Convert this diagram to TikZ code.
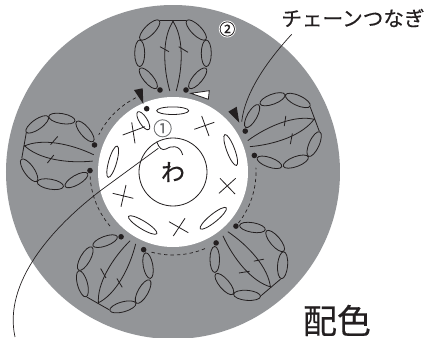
\documentclass[tikz,border=0pt]{standalone}
\usepackage{fontspec}
\setmainfont[FakeBold=0.4]{Noto Sans CJK JP}
\usetikzlibrary{arrows.meta,positioning,calc}
\definecolor{yarn}{RGB}{147,149,152}
\definecolor{ink}{RGB}{35,31,32}
\tikzset{
  st/.style={draw=ink, line width=0.8pt},
  lead/.style={draw=ink, line width=0.7pt},
  knot/.style={circle, fill=ink, inner sep=0pt, minimum size=5.6pt},
  gap/.style={draw=ink, line width=0.7pt, dash pattern=on 3.4pt off 3pt},
  lbl/.style={text=ink, inner sep=0pt},
  % one motif of the outer round, drawn pointing up from the centre
  fan/.pic={
    \node[knot] (dl) at (-13,82) {};
    \node[knot] (dr) at (13,82) {};
    \draw[st] (-12.7,151.3) -- (12.7,151.3);
    \draw[st] (0.5,151.3) .. controls (-11,135) and (-10,105) .. (-3.2,81);
    \draw[st] (-0.5,151.3) .. controls (11,135) and (10,105) .. (3.2,81);
    \draw[st] (-13,125.3) -- (-4,120.3);
    \draw[st] (5.7,125.3) -- (15,119.7);
    \foreach \s in {-1,1} {
      \draw[st] (\s*24.7,93.7) ellipse[x radius=13pt, y radius=4.8pt, rotate=\s*50];
      \draw[st] (\s*33.3,118.7) ellipse[x radius=5pt, y radius=13.3pt];
      \draw[st] (\s*23.3,142) ellipse[x radius=13.5pt, y radius=5pt, rotate=\s*(-45)];
    }
  },
}

\begin{document}
\begin{tikzpicture}[x=1pt,y=1pt]
\useasboundingbox (-173,-166) rectangle (259,172);

% ---- the two discs
\fill[yarn] (0,0) circle[radius=167];
\fill[white] (0,0) circle[radius=75];
\draw[st] (0,0) circle[radius=34];

% ---- first round
\foreach \x/\y/\a/\b/\r in {-0.3/61.3/16/3.8/0, -29.7/51.3/10.4/4/-58, 57.7/22/16.5/4/-69.4,
                            40.3/-46.3/16.7/4/39, -30.3/-53/16.6/4/-31.5, -60.3/10.3/16.3/4/74} {
  \draw[st] (\x,\y) ellipse[x radius=\a pt, y radius=\b pt, rotate=\r];
}
\foreach \xa/\ya/\xb/\yb/\xc/\yc/\xd/\yd in {
    -50.3/37/-28/45.3/-41.3/49.7/-38/28.7,
    21.3/42.7/41.3/49.7/28.7/56/36/36,
    46/-21.3/62.7/-6.3/47/-6.3/62/-22,
    -4/-49.7/15.3/-60.7/0.3/-64/12/-46.3,
    -60.3/-21.3/-39.7/-26.3/-47/-13/-52/-34.7} {
  \draw[st] (\xa,\ya) -- (\xb,\yb);
  \draw[st] (\xc,\yc) -- (\xd,\yd);
}
\node[knot] (startdot) at (-26.3,63.3) {};

% ---- second round
\foreach \ang in {0,-69.5,-139.7,150.3,80} {
  \pic[rotate=\ang] {fan};
}
\foreach \p/\q in {116.6/153.4, 183/222, 255/294, -38/3} {
  \draw[gap] (\p:83) arc[start angle=\p, end angle=\q, radius=83];
}

% ---- marks for the joins
\fill[ink] (-39,82) -- (-30.3,83.7) -- (-29.7,68) -- cycle;
\fill[ink] (55.3,60.3) -- (63.7,65.3) -- (66.3,49.3) -- cycle;
\draw[st, fill=white] (17.7,78.7) -- (36.3,81.3) -- (35.3,72.7) -- cycle;

% ---- labels
\node[lbl, font=\fontsize{24}{24}\selectfont] (ring) at (0,0) {わ};
\node[lbl, text=yarn!75!black, font=\fontsize{19}{19}\selectfont] (one) at (-10.3,43.7) {①};
\node[circle, fill=white, minimum size=17pt, inner sep=0pt] (twobg) at (54.3,143) {};
\node[lbl, font=\fontsize{16}{16}\selectfont] (two) at (twobg) {②};
\node[lbl, font=\fontsize{20.6}{21}\selectfont] (chain) at (180,154) {チェーンつなぎ};
\node[lbl, font=\fontsize{34}{34}\selectfont] (scheme) at (164,-148.5) {配色};

% ---- leaders
\coordinate (chainend) at (118.7,137.7);
\coordinate (chaintip) at (68.7,50.3);
\draw[lead] (chainend) .. controls (95,112) and (72,80) .. (chaintip);
\coordinate (yarnend) at (-158,-165);
\coordinate (yarnin) at (-14.7,23.7);
\draw[lead] (yarnin) -- (-73,-19) .. controls (-120,-55) and (-170,-110) .. (yarnend);
\draw[st] (-16.3,30.3) .. controls (-14,24) and (-11,21) .. (-7,23)
  .. controls (-3,26) and (7,28) .. (9.7,17);

\end{tikzpicture}
\end{document}
